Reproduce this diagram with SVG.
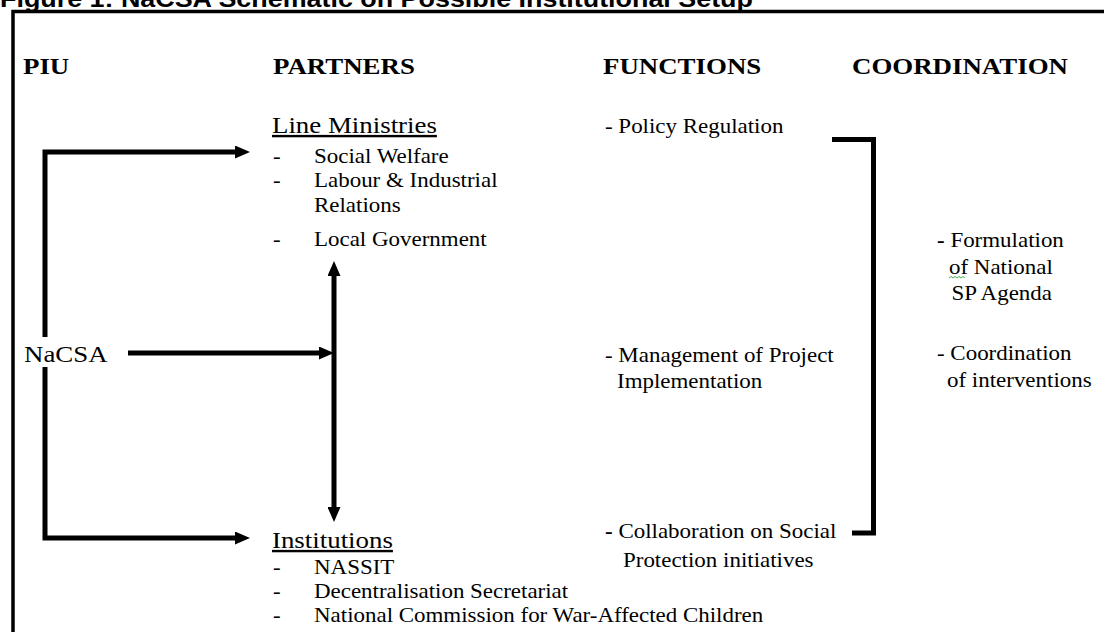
<svg xmlns="http://www.w3.org/2000/svg" width="1104" height="632" viewBox="0 0 1104 632">
  <defs>
    <style>
      .frame { fill: none; stroke: #000; stroke-width: 3.5; stroke-linejoin: miter; }
      .title { font-family: "Liberation Sans", Arial, sans-serif; font-weight: bold; font-size: 24px; fill: #000; }
      .hdr { font-family: "Liberation Serif", "Times New Roman", serif; font-weight: bold; font-size: 24px; fill: #000; }
      .head { font-family: "Liberation Serif", "Times New Roman", serif; font-size: 24px; fill: #000; }
      .body { font-family: "Liberation Serif", "Times New Roman", serif; font-size: 20.5px; fill: #000; }
      .ul { text-decoration: underline; }
      .b { font-weight: bold; }
      .conn { fill: none; stroke: #000; stroke-width: 5; stroke-linejoin: miter; stroke-linecap: butt; }
      .squiggle { fill: none; stroke: #4caf50; stroke-width: 1; }
    </style>
    <marker id="arrow" viewBox="0 0 15 13" refX="7" refY="6.5" markerWidth="15" markerHeight="13" markerUnits="userSpaceOnUse" orient="auto-start-reverse">
      <path d="M0,0 L15,6.5 L0,13 Z" fill="#000"/>
    </marker>
  </defs>

  <rect width="1104" height="632" fill="#fff"/>

  <!-- outer frame: left and top edges only -->
  <path class="frame" d="M13,632 V11.5 H1104"/>

  <!-- connectors -->
  <g id="connectors">
    <path class="conn" d="M45,337 V152 H242" marker-end="url(#arrow)"/>
    <path class="conn" d="M45,367 V538 H242" marker-end="url(#arrow)"/>
    <path class="conn" d="M128,353 H326" marker-end="url(#arrow)"/>
    <path class="conn" d="M334,269 V514" marker-start="url(#arrow)" marker-end="url(#arrow)"/>
    <path class="conn" d="M832,139.5 H873.5 V533 H852"/>
  </g>

  <!-- text is set in a horizontally widened face -->
  <g transform="scale(1.12,1)">
    <g id="title">
      <text class="title" x="0" y="7">Figure 1: NaCSA Schematic on Possible Institutional Setup</text>
    </g>

    <g id="headers">
      <text class="hdr" x="20.54" y="74">PIU</text>
      <text class="hdr" x="243.75" y="74">PARTNERS</text>
      <text class="hdr" x="538.39" y="74">FUNCTIONS</text>
      <text class="hdr" x="760.71" y="74">COORDINATION</text>
    </g>

    <g id="node-nacsa">
      <text class="head" x="21.43" y="362">NaCSA</text>
    </g>

    <g id="node-line-ministries">
      <text class="head ul" x="242.86" y="133">Line Ministries</text>
      <text class="body" x="243.75" y="163">-</text>
      <text class="body" x="280.36" y="163">Social Welfare</text>
      <text class="body" x="243.75" y="187">-</text>
      <text class="body" x="280.36" y="187">Labour &amp; Industrial</text>
      <text class="body" x="280.36" y="212">Relations</text>
      <text class="body" x="243.75" y="246">-</text>
      <text class="body" x="280.36" y="246">Local Government</text>
    </g>

    <g id="node-institutions">
      <text class="head ul" x="242.86" y="548">Institutions</text>
      <text class="body" x="243.75" y="574">-</text>
      <text class="body" x="280.36" y="574">NASSIT</text>
      <text class="body" x="243.75" y="598">-</text>
      <text class="body" x="280.36" y="598">Decentralisation Secretariat</text>
      <text class="body" x="243.75" y="622">-</text>
      <text class="body" x="280.36" y="622">National Commission for War-Affected Children</text>
    </g>

    <g id="fn-policy">
      <text class="body" x="540.18" y="133">- Policy Regulation</text>
    </g>

    <g id="fn-management">
      <text class="body" x="540.18" y="362">- Management of Project</text>
      <text class="body" x="550.89" y="388">Implementation</text>
    </g>

    <g id="fn-collaboration">
      <text class="body" x="540.18" y="538"><tspan class="b">-</tspan> Collaboration on Social</text>
      <text class="body" x="556.25" y="567">Protection initiatives</text>
    </g>

    <g id="coord-formulation">
      <text class="body" x="836.61" y="247"><tspan class="b">-</tspan> Formulation</text>
      <text class="body" x="847.32" y="274">of National</text>
      <text class="body" x="849.55" y="300">SP Agenda</text>
    </g>

    <g id="coord-interventions">
      <text class="body" x="836.61" y="360">- Coordination</text>
      <text class="body" x="845.54" y="387">of interventions</text>
    </g>
  </g>

  <!-- spell-check mark under "of" -->
  <polyline class="squiggle" points="949,278 951,276.5 953,278 955,276.5 957,278 959,276.5 961,278 963,276.5 965,278"/>
</svg>
